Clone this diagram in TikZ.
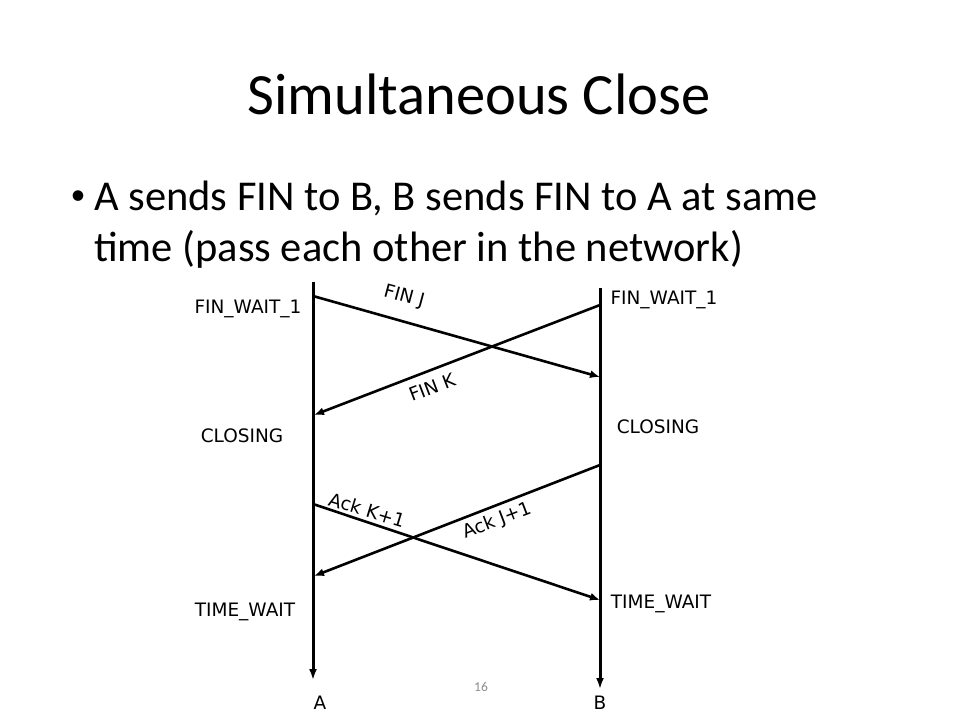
\documentclass[tikz,border=0pt]{standalone}
\usepackage{fontspec}
\setmainfont{Carlito}
\newfontfamily\lblfont{DejaVu Sans}
\usetikzlibrary{arrows.meta}
\begin{document}
\begin{tikzpicture}[x=1pt,y=-1pt,
  msg/.style={line width=2.6pt,-{Latex[length=10pt,width=8pt]}},
  lbl/.style={font=\lblfont\fontsize{18.5}{20}\selectfont,inner sep=0pt},
  tl/.style={line width=3pt,-{Latex[length=11pt,width=8pt]}}]
\useasboundingbox (0,0) rectangle (960,720);
\fill[white] (0,0) rectangle (960,720);
% title and bullet
\node[font=\fontsize{58.5}{60}\selectfont,inner sep=0pt] (title) at (479,94) {Simultaneous Close};
\node[font=\fontsize{30}{40}\selectfont,inner sep=0pt] (bul) at (78,198) {\textbullet};
\node[font=\fontsize{42.5}{51}\selectfont,inner sep=0pt,anchor=west,align=left] (btext) at (94,225) {A sends FIN to B, B sends FIN to A at same\\time (pass each other in the network)};
% timelines
\coordinate (Atop) at (313,282);
\coordinate (Abot) at (313,680);
\coordinate (Btop) at (600,288);
\coordinate (Bbot) at (600,689);
\draw[tl] (Atop) -- (Abot);
\draw[tl] (Btop) -- (Bbot);
% message endpoints
\coordinate (a1) at (313,296);
\coordinate (b1) at (600,377);
\coordinate (b2) at (600,305);
\coordinate (a2) at (314,415);
\coordinate (a3) at (313,504);
\coordinate (b3) at (600,600);
\coordinate (b4) at (600,465);
\coordinate (a4) at (314,576);
\draw[msg] (a1) -- (b1);
\draw[msg] (b2) -- (a2);
\draw[msg] (a3) -- (b3);
\draw[msg] (b4) -- (a4);
% message labels
\node[lbl,rotate=-15] (lfinj) at (404,297) {FIN J};
\node[lbl,rotate=21] (lfink) at (432,387) {FIN K};
\node[lbl,rotate=-17] (lackk) at (367,510) {Ack K+1};
\node[lbl,rotate=21] (lackj) at (497,521) {Ack J+1};
% state labels
\node[lbl] (sa1) at (248,309) {FIN\_WAIT\_1};
\node[lbl] (sb1) at (664,300) {FIN\_WAIT\_1};
\node[lbl] (sa2) at (242,436) {CLOSING};
\node[lbl] (sb2) at (658,427) {CLOSING};
\node[lbl] (sa3) at (245,612) {TIME\_WAIT};
\node[lbl] (sb3) at (661,604) {TIME\_WAIT};
\node[lbl] (la) at (320,703) {A};
\node[lbl] (lb) at (600,703) {B};
\node[font=\fontsize{13.5}{15}\selectfont,text=black!45,inner sep=0pt] (pg) at (481,687) {16};
\end{tikzpicture}
\end{document}
